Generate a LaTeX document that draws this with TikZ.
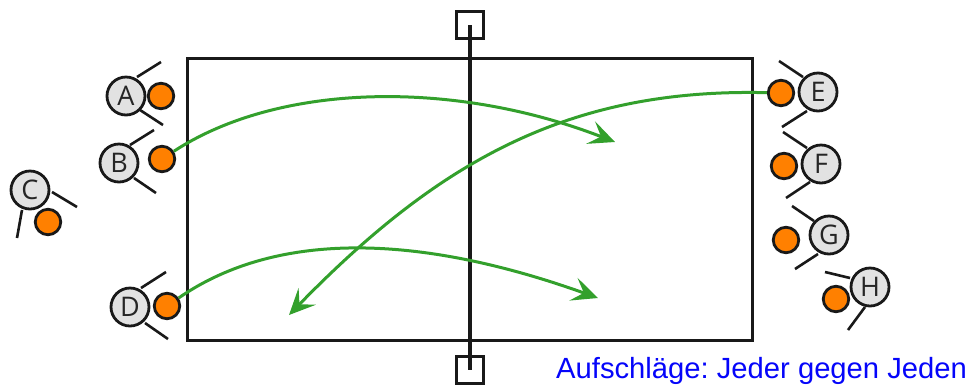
\documentclass[tikz,border=0pt]{standalone}
\usepackage{fontspec}
\setmainfont{Liberation Sans}
\newfontfamily\playerfont{Open Sans}
\usetikzlibrary{arrows.meta}
\definecolor{shot}{HTML}{33A02C}
\definecolor{ballc}{HTML}{FF8000}
\definecolor{headc}{HTML}{E2E2E2}
\definecolor{captionc}{HTML}{0505FA}
\tikzset{
  x=1pt,y=-1pt,
  player/.style={circle,draw=black!90,line width=2.8pt,fill=headc,minimum size=38pt,inner sep=0pt,font=\playerfont\fontsize{27}{27}\selectfont,text=black!85},
  ball/.style={circle,draw=black!90,line width=2.8pt,fill=ballc,minimum size=25.5pt,inner sep=0pt},
  arm/.style={line width=2.6pt,draw=black!90},
  court/.style={line width=3pt,draw=black!90},
  netline/.style={line width=3.2pt,draw=black!90},
  post/.style={line width=3pt,draw=black!90,minimum size=27pt,inner sep=0pt},
  shotline/.style={line width=3pt,draw=shot,-{Stealth[length=26pt,width=24pt,inset=11pt,fill=shot]}},
}
\begin{document}
\begin{tikzpicture}
\useasboundingbox (0,0) rectangle (968,384);
\node[post] (posttop) at (470,25) {};
\node[post] (postbot) at (470,370) {};
\node[court,minimum width=565pt,minimum height=282pt,inner sep=0pt] (courtbox) at (469.5,199) {};
\draw[netline] (posttop.center) -- (postbot.center);

\foreach \n/\hx/\hy/\ax/\ay/\bx/\by/\cx/\cy/\dx/\dy in {
 A/126/96/137/77/161/62/140/110/163/125,
 B/119/163/130/145/154/130/134/178/156/193,
 C/30/190/52/192/77/207/22/210/17/238,
 D/130/307/141/288/166/272/145/323/168/339,
 E/818/92/803/77/779/61/807/111/782/127,
 F/821/164/807/148/783/132/810/182/786/198,
 G/829/235/814/221/792/206/818/254/795/269,
 H/870/287/850/278/825/272/865/307/848/330}{
  \draw[arm] (\ax,\ay) -- (\bx,\by);
  \draw[arm] (\cx,\cy) -- (\dx,\dy);
  \node[player] (p\n) at (\hx,\hy) {\n};
}
\foreach \n/\x/\y in {A/161/96,B/162/159,C/48/222,D/167/306,E/781/93,F/784/166,G/786/240,H/836/299}{
  \node[ball] (b\n) at (\x,\y) {};
}
\coordinate (tB) at (615,142);
\coordinate (tD) at (598,298);
\coordinate (tE) at (289,315);
\draw[shotline] (bB) .. controls (280,82) and (455,80) .. (tB);
\draw[shotline] (bD) .. controls (280,228) and (425,236) .. (tD);
\draw[shotline] (bE) .. controls (570,88) and (440,160) .. (tE);
\node[anchor=base west,inner sep=0pt,text=captionc,font=\fontsize{29.2}{29.2}\selectfont] (cap) at (556,378) {\frenchspacing Aufschläge: Jeder gegen Jeden};
\end{tikzpicture}
\end{document}
